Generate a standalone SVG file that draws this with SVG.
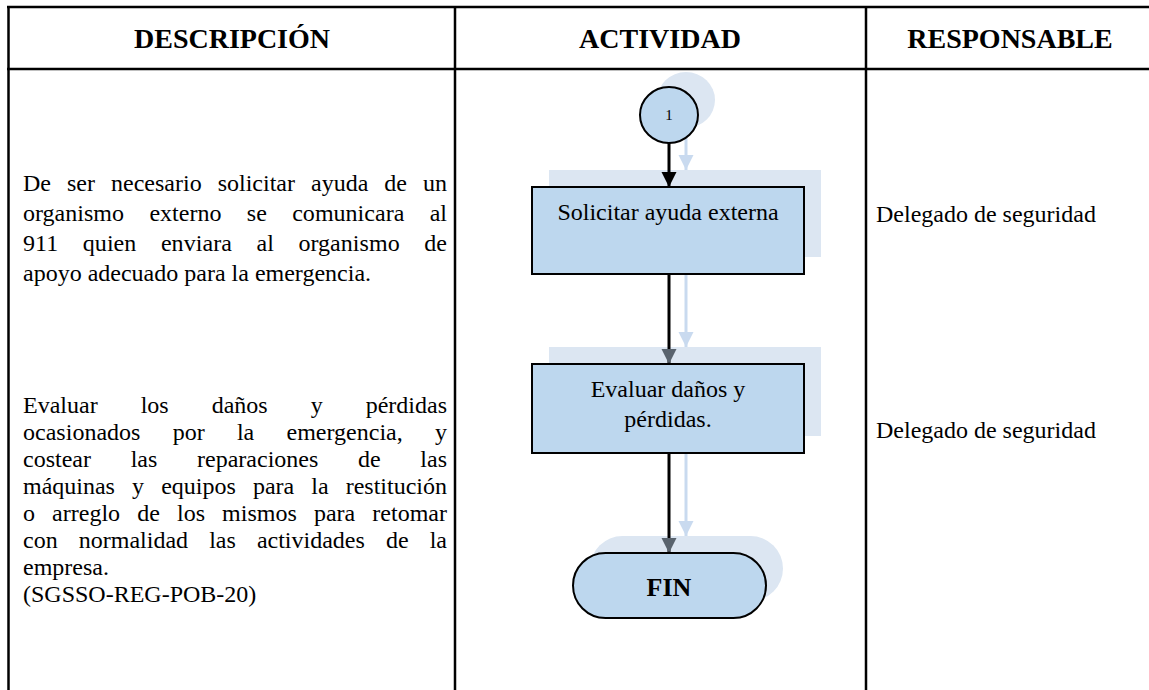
<svg xmlns="http://www.w3.org/2000/svg" width="1149" height="690" viewBox="0 0 1149 690">
<defs>
<style>
.grid{stroke:#000;stroke-width:2.5;fill:none}
.hdr{font-family:"Liberation Serif","Times New Roman",serif;font-weight:bold;font-size:28px;fill:#000;text-anchor:middle}
.body{font-family:"Liberation Serif","Times New Roman",serif;font-size:24px;fill:#000}
.ctr{text-anchor:middle}
.shadow{fill:#DCE6F2;stroke:none}
.shline{stroke:#C9DAEF;stroke-width:3;fill:none}
.node{fill:#BDD7EE;stroke:#000;stroke-width:2}
.conn{stroke:#000;stroke-width:3;fill:none}
</style>
<marker id="ahBlack" markerWidth="16" markerHeight="16" refX="15" refY="7.5" orient="auto" markerUnits="userSpaceOnUse"><path d="M0,0 L15,7.5 L0,15 Z" fill="#000"/></marker>
<marker id="ahGray" markerWidth="16" markerHeight="16" refX="15" refY="7.5" orient="auto" markerUnits="userSpaceOnUse"><path d="M0,0 L15,7.5 L0,15 Z" fill="#59636E"/></marker>
<marker id="ahShadow" markerWidth="16" markerHeight="16" refX="15" refY="7.5" orient="auto" markerUnits="userSpaceOnUse"><path d="M0,0 L15,7.5 L0,15 Z" fill="#C9DAEF"/></marker>
</defs>
<rect width="1149" height="690" fill="#fff"/>

<g id="table">
<line class="grid" x1="7" y1="7" x2="1149" y2="7"/>
<line class="grid" x1="7" y1="69" x2="1149" y2="69"/>
<line class="grid" x1="8.5" y1="6" x2="8.5" y2="690"/>
<line class="grid" x1="455" y1="6" x2="455" y2="690"/>
<line class="grid" x1="866" y1="6" x2="866" y2="690"/>
<text class="hdr" x="232" y="48">DESCRIPCIÓN</text>
<text class="hdr" x="660" y="48">ACTIVIDAD</text>
<text class="hdr" x="1010" y="48">RESPONSABLE</text>
</g>

<g id="desc1" class="body">
<text x="23" y="191" word-spacing="10" textLength="424" lengthAdjust="spacing">De ser necesario solicitar ayuda de un</text>
<text x="23" y="221" word-spacing="19.3" textLength="424" lengthAdjust="spacing">organismo externo se comunicara al</text>
<text x="23" y="251" word-spacing="18.5" textLength="424" lengthAdjust="spacing">911 quien enviara al organismo de</text>
<text x="23" y="281">apoyo adecuado para la emergencia.</text>
</g>

<g id="desc2" class="body">
<text x="23" y="413" word-spacing="37" textLength="424" lengthAdjust="spacing">Evaluar los daños y pérdidas</text>
<text x="23" y="440" word-spacing="26.2" textLength="424" lengthAdjust="spacing">ocasionados por la emergencia, y</text>
<text x="23" y="467" word-spacing="33.7" textLength="424" lengthAdjust="spacing">costear las reparaciones de las</text>
<text x="23" y="494" word-spacing="11.1" textLength="424" lengthAdjust="spacing">máquinas y equipos para la restitución</text>
<text x="23" y="521" word-spacing="11.1" textLength="424" lengthAdjust="spacing">o arreglo de los mismos para retomar</text>
<text x="23" y="548" word-spacing="15.1" textLength="424" lengthAdjust="spacing">con normalidad las actividades de la</text>
<text x="23" y="575">empresa.</text>
<text x="23" y="602">(SGSSO-REG-POB-20)</text>
</g>

<g id="resp1" class="body"><text x="876" y="222">Delegado de seguridad</text></g>
<g id="resp2" class="body"><text x="876" y="438">Delegado de seguridad</text></g>

<g id="shadows">
<ellipse class="shadow" cx="686" cy="100" rx="29" ry="28"/>
<rect class="shadow" x="549" y="170" width="272" height="87"/>
<rect class="shadow" x="549" y="347" width="272" height="89"/>
<rect class="shadow" x="590" y="536" width="193" height="65" rx="32.5" ry="32.5"/>
<line class="shline" x1="686" y1="128" x2="686" y2="170" marker-end="url(#ahShadow)"/>
<line class="shline" x1="686" y1="257" x2="686" y2="347" marker-end="url(#ahShadow)"/>
<line class="shline" x1="686" y1="436" x2="686" y2="536" marker-end="url(#ahShadow)"/>
</g>

<g id="connectors">
<line class="conn" x1="669" y1="143" x2="669" y2="187" marker-end="url(#ahBlack)"/>
<line class="conn" x1="669" y1="274" x2="669" y2="364" marker-end="url(#ahGray)"/>
<line class="conn" x1="669" y1="453" x2="669" y2="553" marker-end="url(#ahGray)"/>
</g>

<g id="node-connector1">
<ellipse class="node" cx="669" cy="115" rx="29" ry="28"/>
<text class="body ctr" x="669" y="120" style="font-size:15px">1</text>
</g>
<g id="node-solicitar">
<rect class="node" x="532" y="187" width="272" height="87"/>
<text class="body ctr" x="668" y="220">Solicitar ayuda externa</text>
</g>
<g id="node-evaluar">
<rect class="node" x="532" y="364" width="272" height="89"/>
<text class="body ctr" x="668" y="397">Evaluar daños y</text>
<text class="body ctr" x="668" y="427">pérdidas.</text>
</g>
<g id="node-fin">
<rect class="node" x="573" y="553" width="193" height="65" rx="32.5" ry="32.5"/>
<text class="hdr" x="669" y="596" style="font-size:26px">FIN</text>
</g>
</svg>
